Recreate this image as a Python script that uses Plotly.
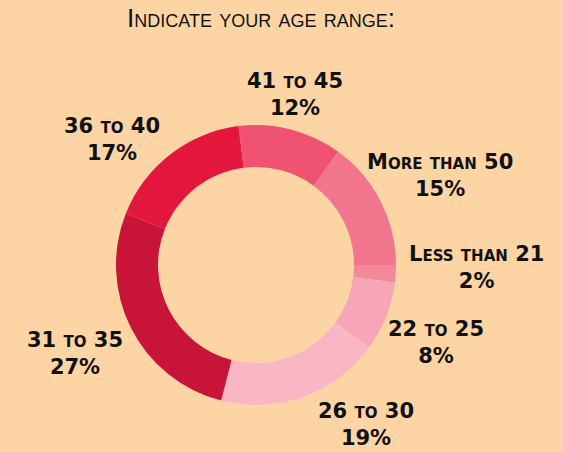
import plotly.graph_objects as go

# Age-range survey responses, listed clockwise from 3 o'clock
age_ranges = ["Less than 21", "22 to 25", "26 to 30", "31 to 35",
              "36 to 40", "41 to 45", "More than 50"]
shares = [2, 8, 19, 27, 17, 12, 15]
slice_colors = ["#F4899C", "#F7A6B8", "#F9B6C4", "#C81438",
                "#E3173E", "#F05272", "#F2758E"]

BG = "#FDD5A5"
W, H = 563, 452

# Donut geometry (pixels): centre and outer radius
CX, CY, R = 256, 265, 140

# Where each category's label block is centred (pixels from top-left)
label_spots = [(476, 267), (436, 342), (366, 424), (75, 353),
               (112, 139), (295, 94), (440, 175)]

fig = go.Figure(go.Pie(
    labels=age_ranges,
    values=shares,
    sort=False,
    direction="clockwise",
    rotation=90,
    hole=0.7,
    marker=dict(colors=slice_colors, line=dict(width=0)),
    textinfo="none",
    domain=dict(x=[(CX - R) / W, (CX + R) / W],
                y=[(H - CY - R) / H, (H - CY + R) / H]),
    showlegend=False,
    hoverinfo="label+percent",
))

total = sum(shares)
label_font = dict(family="DejaVu Sans, Verdana, sans-serif", size=21,
                  color="#111111", weight="bold", variant="small-caps")
for name, val, (px, py) in zip(age_ranges, shares, label_spots):
    fig.add_annotation(
        text=f"{name}<br>{round(100 * val / total)}%",
        xref="paper", yref="paper",
        x=px / W, y=1 - py / H,
        xanchor="center", yanchor="middle",
        showarrow=False, align="center",
        font=label_font,
    )

fig.update_layout(
    width=W, height=H,
    margin=dict(l=0, r=0, t=0, b=0),
    paper_bgcolor=BG,
    plot_bgcolor=BG,
    title=dict(
        text="Indicate your age range:",
        x=261 / W, xanchor="center",
        y=1 - 18 / H, yanchor="middle",
        font=dict(family="Liberation Sans, Arial, sans-serif", size=26,
                  color="#111111", variant="small-caps"),
    ),
)

fig.write_html("out.html")
